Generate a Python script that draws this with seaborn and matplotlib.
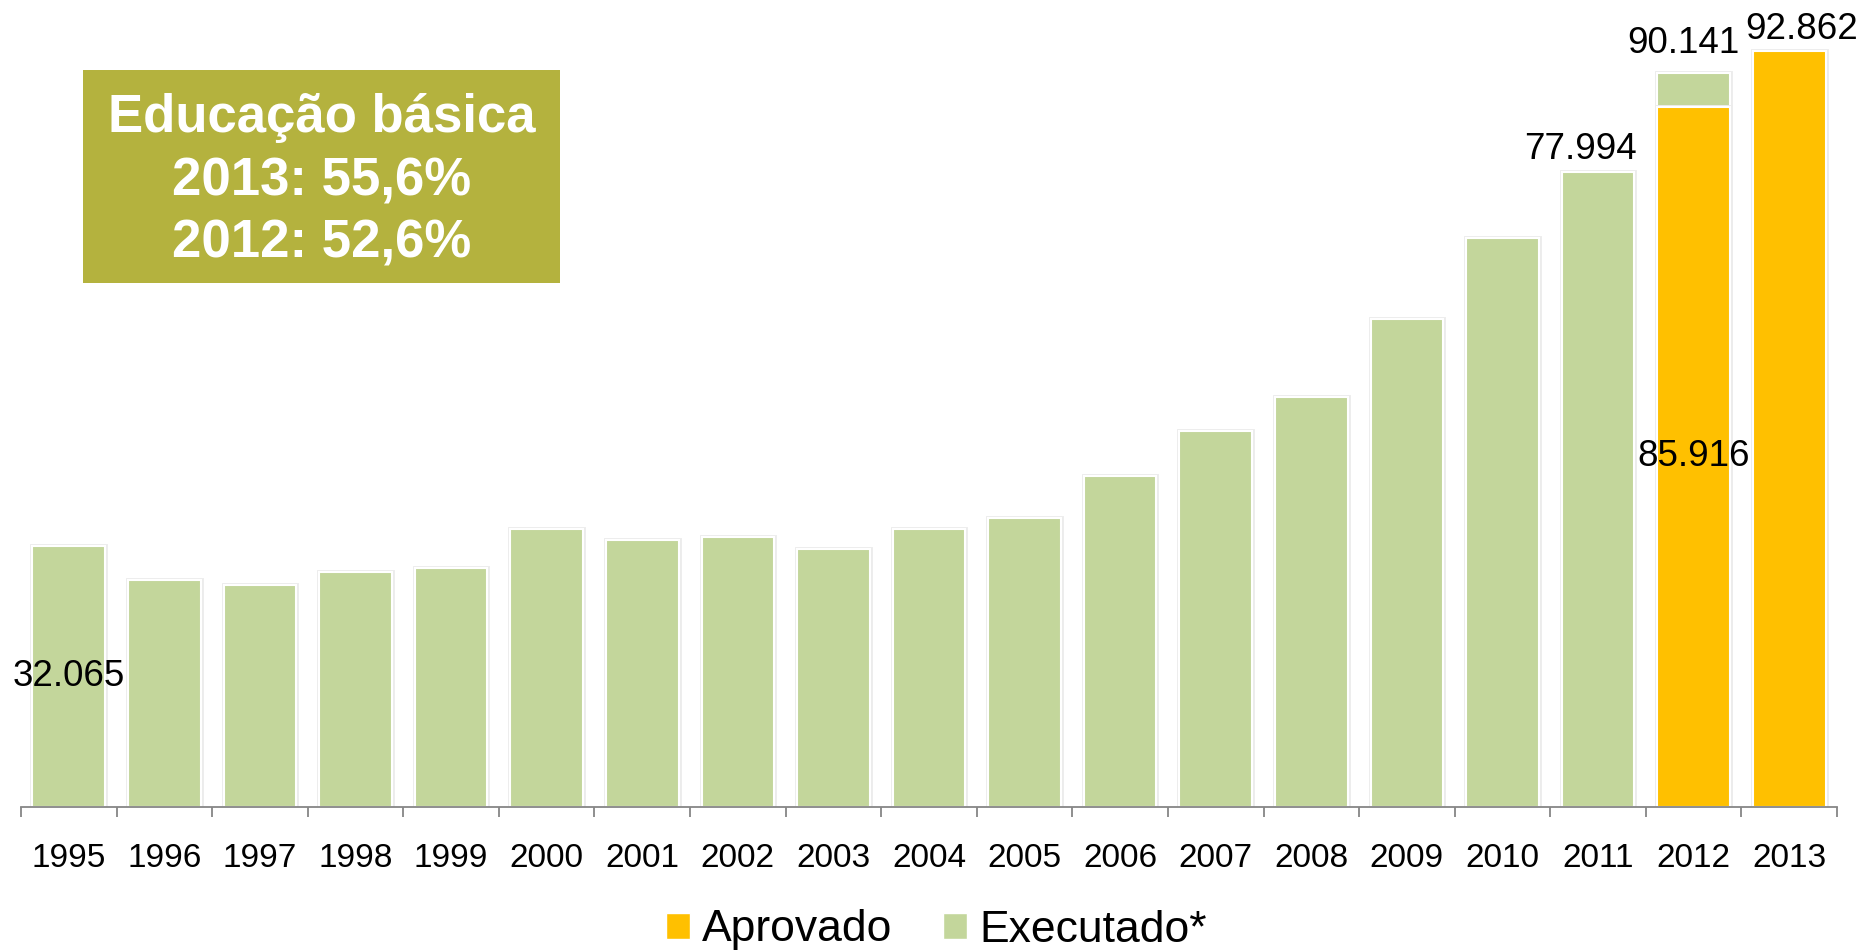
import numpy as np
import pandas as pd
import matplotlib.pyplot as plt
import seaborn as sns
import matplotlib.patheffects as pe
from matplotlib.patches import Patch, Rectangle

# dados (R$ bilhoes)
anos = [str(a) for a in range(1995, 2014)]
executado = [32.065, 27.8, 27.2, 28.8, 29.3, 34.1, 32.8, 33.1, 31.7, 34.1,
             35.4, 40.6, 46.1, 50.3, 59.9, 69.9, 77.994, 90.141, np.nan]
aprovado = [np.nan] * 17 + [85.916, 92.862]
caixa_linhas = ['Educação básica', '2013: 55,6%', '2012: 52,6%']

verde = '#C3D69B'
laranja = '#FFC000'
oliva = '#B4B23E'
cinza = '#868686'

sns.set_style('white')
plt.rcParams['font.family'] = ['Liberation Sans', 'DejaVu Sans']
plt.rcParams['text.color'] = 'black'
plt.rcParams['xtick.color'] = cinza
plt.rcParams['xtick.labelcolor'] = 'black'

W, H = 1864, 951
base = 806.7      # linha do eixo (px)
px_unid = 8.142   # px por unidade

df = pd.DataFrame({'ano': anos, 'Executado*': executado, 'Aprovado': aprovado})

fig = plt.figure(figsize=(W / 100, H / 100), dpi=100)
ax = fig.add_axes([21 / W, 1 - base / H, 1816 / W, base / H])

sns.barplot(data=df, x='ano', y='Executado*', order=anos, color=verde,
            saturation=1, width=0.76, edgecolor='white', linewidth=1.5,
            errorbar=None, ax=ax)
sns.barplot(data=df, x='ano', y='Aprovado', order=anos, color=laranja,
            saturation=1, width=0.76, edgecolor='white', linewidth=1.5,
            errorbar=None, ax=ax)

# sombra bem leve nas barras
for p in ax.patches:
    p.set_path_effects([pe.Stroke(linewidth=3.5, foreground='#ececec'), pe.Normal()])

ax.set_xlim(-0.5, 18.5)
ax.set_ylim(0, base / px_unid)
ax.set_xlabel('')
ax.set_ylabel('')
ax.set_yticks([])

# ticks nas divisas, rotulos no centro
ax.set_xticks(np.arange(-0.5, 19, 1))
ax.set_xticklabels([])
ax.set_xticks(np.arange(19), minor=True)
ax.set_xticklabels(anos, minor=True)
ax.tick_params(axis='x', which='major', bottom=True, length=7.2, width=1.3,
               color=cinza, direction='out')
ax.tick_params(axis='x', which='minor', bottom=True, length=0, labelsize=24, pad=26,
               labelcolor='black')

for s in ['left', 'top', 'right']:
    ax.spines[s].set_visible(False)
ax.spines['bottom'].set_color(cinza)
ax.spines['bottom'].set_linewidth(1.3)
ax.spines['bottom'].set_zorder(6)

# rotulos de valor
def rotulo(i, v, dx, dy, meio=False):
    y = v / 2 if meio else v
    ax.annotate(f'{v:.3f}', xy=(i, y), xytext=(dx, dy), textcoords='offset pixels',
                ha='center', va='center' if meio else 'baseline', fontsize=26.5,
                color='black', zorder=5)

rotulo(0, executado[0], 0, 0, meio=True)
rotulo(16, executado[16], -18, 13)
rotulo(17, executado[17], -10, 20)
rotulo(17, aprovado[17], 0, 0, meio=True)
rotulo(18, aprovado[18], 12, 12)

# caixa de destaque
fig.add_artist(Rectangle((83 / W, 1 - 283 / H), (560 - 83) / W, (283 - 70) / H,
                         transform=fig.transFigure, facecolor=oliva, edgecolor='none', zorder=3))
for linha, yb in zip(caixa_linhas, [131.7, 195.7, 257.3]):
    fig.text(322 / W, 1 - yb / H, linha, ha='center', va='baseline', color='white',
             fontsize=38, fontweight='bold', zorder=4)

leg = fig.legend(handles=[Patch(facecolor=laranja, label='Aprovado'),
                          Patch(facecolor=verde, label='Executado*')],
                 loc='center', bbox_to_anchor=(936.5 / W, 1 - 930 / H), ncol=2, frameon=False,
                 fontsize=32, handlelength=0.54, handleheight=0.54, handletextpad=0.27,
                 columnspacing=1.15, borderpad=0)
for t in leg.get_texts():
    t.set_color('black')

fig.savefig('out.png', dpi=100)
